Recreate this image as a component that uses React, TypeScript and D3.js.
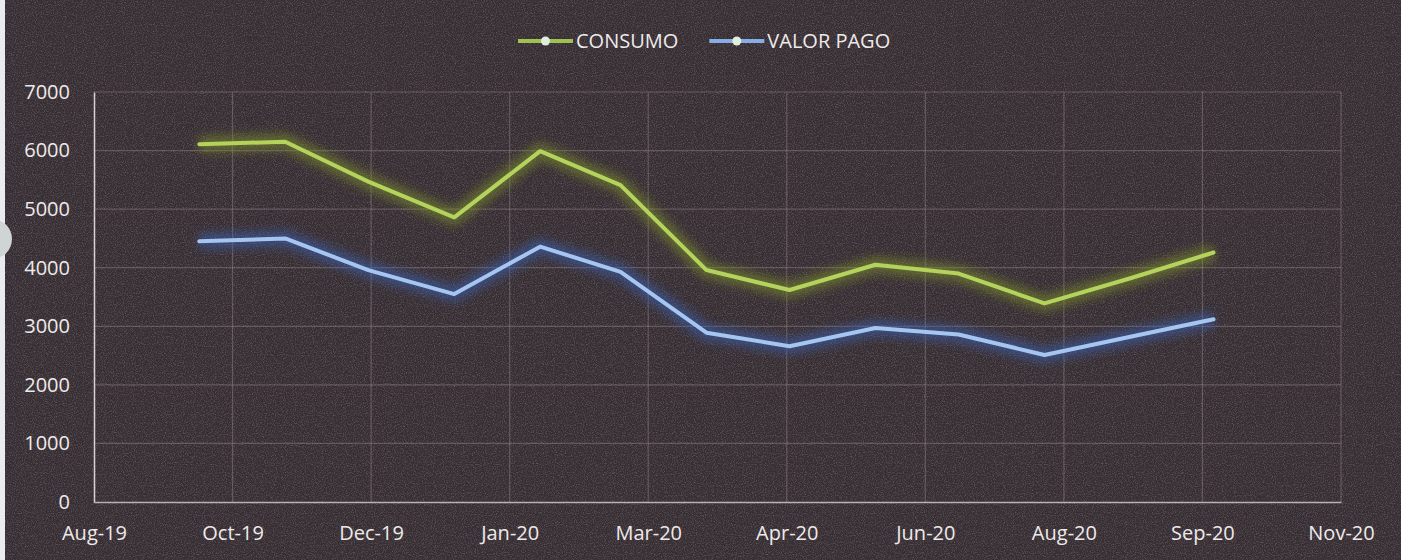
import React, { useEffect, useRef } from 'react';
import * as d3 from 'd3';

// month-end readings
const readingDates = [
  '2019-09-30', '2019-10-31', '2019-11-30', '2019-12-31', '2020-01-31', '2020-02-29', '2020-03-31',
  '2020-04-30', '2020-05-31', '2020-06-30', '2020-07-31', '2020-08-31', '2020-09-30',
];
const consumo = [6110, 6150, 5470, 4860, 5990, 5410, 3960, 3620, 4050, 3900, 3390, 3820, 4260];
const valorPago = [4450, 4500, 3960, 3550, 4360, 3930, 2890, 2660, 2970, 2860, 2510, 2820, 3120];

// Excel date axis: starts 23-Aug-19, major unit 50 days
const axisStart = '2019-08-23';
const tickStepDays = 50;
const tickLabels = ['Aug-19', 'Oct-19', 'Dec-19', 'Jan-20', 'Mar-20', 'Apr-20', 'Jun-20', 'Aug-20', 'Sep-20', 'Nov-20'];
const yTicks = [0, 1000, 2000, 3000, 4000, 5000, 6000, 7000];

const series = [
  { name: 'CONSUMO', values: consumo, color: '#b4d35c', glow: '#7d8f2a', legendColor: '#9fc150' },
  { name: 'VALOR PAGO', values: valorPago, color: '#a6c6f2', glow: '#3d5fb0', legendColor: '#86aee6' },
];

const W = 1401;
const H = 560;

export default function App() {
  const svgRef = useRef<SVGSVGElement>(null);

  useEffect(() => {
    if (!svgRef.current) return;
    const svg = d3.select(svgRef.current);
    svg.selectAll('*').remove();

    const parse = d3.timeParse('%Y-%m-%d');
    const start = parse(axisStart) as Date;
    const tickDates = tickLabels.map((_, i) => d3.timeDay.offset(start, i * tickStepDays));
    const end = tickDates[tickDates.length - 1];

    const margin = { top: 92, right: W - 1341, bottom: H - 502, left: 94 };
    const width = W - margin.left - margin.right;
    const height = H - margin.top - margin.bottom;

    const x = d3.scaleTime().domain([start, end]).range([0, width]);
    const y = d3.scaleLinear().domain([0, 7000]).range([height, 0]);

    const defs = svg.append('defs');
    defs.append('filter')
      .attr('id', 'glow')
      .attr('x', '-10%').attr('y', '-30%').attr('width', '120%').attr('height', '160%')
      .append('feGaussianBlur')
      .attr('stdDeviation', 5);

    const grain = defs.append('filter').attr('id', 'grain');
    grain.append('feTurbulence')
      .attr('type', 'fractalNoise')
      .attr('baseFrequency', 0.9)
      .attr('numOctaves', 2)
      .attr('seed', 3);
    grain.append('feColorMatrix')
      .attr('type', 'matrix')
      .attr('values', '0 0 0 0 0.75  0 0 0 0 0.7  0 0 0 0 0.74  0 0 0 -1.6 0.9');

    // background (scanned page)
    svg.append('rect').attr('width', W).attr('height', H).attr('fill', '#372e33');
    svg.append('rect').attr('width', W).attr('height', H).attr('filter', 'url(#grain)').attr('opacity', 0.35);
    svg.append('rect').attr('width', 5).attr('height', H).attr('fill', '#e9ebee');
    svg.append('circle').attr('cx', -8).attr('cy', 239).attr('r', 20).attr('fill', '#cfd4d4');

    const g = svg.append('g').attr('transform', `translate(${margin.left},${margin.top})`);

    // grid
    g.append('g')
      .selectAll('line')
      .data(yTicks.slice(1))
      .join('line')
      .attr('x1', 0).attr('x2', width)
      .attr('y1', d => y(d)).attr('y2', d => y(d))
      .attr('stroke', '#a39799').attr('stroke-opacity', 0.38).attr('stroke-width', 1.2);

    g.append('g')
      .selectAll('line')
      .data(tickDates.slice(1))
      .join('line')
      .attr('x1', d => x(d)).attr('x2', d => x(d))
      .attr('y1', 0).attr('y2', height)
      .attr('stroke', '#a39799').attr('stroke-opacity', 0.38).attr('stroke-width', 1.2);

    // axes
    const xAxis = g.append('g')
      .attr('transform', `translate(0,${height})`)
      .call(d3.axisBottom(x).tickValues(tickDates).tickSize(0).tickPadding(24)
        .tickFormat((_, i) => tickLabels[i]));
    xAxis.select('.domain').attr('stroke', '#b9b1b2').attr('stroke-width', 1.5);

    const yAxis = g.append('g')
      .call(d3.axisLeft(y).tickValues(yTicks).tickSize(0).tickPadding(24).tickFormat(d3.format('d')));
    yAxis.select('.domain').attr('stroke', '#d6d2d3').attr('stroke-width', 1.5);

    svg.selectAll('.tick text')
      .attr('fill', '#eeeaea')
      .style('font-family', '"Open Sans", sans-serif')
      .style('font-size', '20px');

    // lines
    const dates = readingDates.map(d => parse(d) as Date);
    const line = d3.line<number>()
      .x((_, i) => x(dates[i]))
      .y(d => y(d));

    series.forEach(s => {
      g.append('path')
        .datum(s.values)
        .attr('fill', 'none')
        .attr('stroke', s.glow)
        .attr('stroke-width', 16)
        .attr('stroke-opacity', 0.55)
        .attr('stroke-linejoin', 'round')
        .attr('filter', 'url(#glow)')
        .attr('d', line);
      g.append('path')
        .datum(s.values)
        .attr('fill', 'none')
        .attr('stroke', s.color)
        .attr('stroke-width', 4)
        .attr('stroke-linejoin', 'round')
        .attr('stroke-linecap', 'round')
        .attr('d', line);
    });

    // legend
    const legend = svg.append('g').attr('transform', 'translate(518,41)');
    let lx = 0;
    series.forEach(s => {
      const item = legend.append('g').attr('transform', `translate(${lx},0)`);
      item.append('line')
        .attr('x1', 0).attr('x2', 55)
        .attr('stroke', s.legendColor).attr('stroke-width', 4);
      item.append('circle')
        .attr('cx', 27.5).attr('r', 4.5)
        .attr('fill', '#dfeedd');
      const t = item.append('text')
        .attr('x', 58).attr('y', 7)
        .attr('fill', '#eeeaea')
        .style('font-family', '"Open Sans", sans-serif')
        .style('font-size', '20px')
        .text(s.name);
      const tw = (t.node() as SVGTextElement).getComputedTextLength();
      lx += 58 + tw + 31;
    });
  }, []);

  return (
    <div style={{ position: 'absolute', left: 0, top: 0 }}>
      <svg ref={svgRef} width={W} height={H} style={{ display: 'block' }} />
    </div>
  );
}
